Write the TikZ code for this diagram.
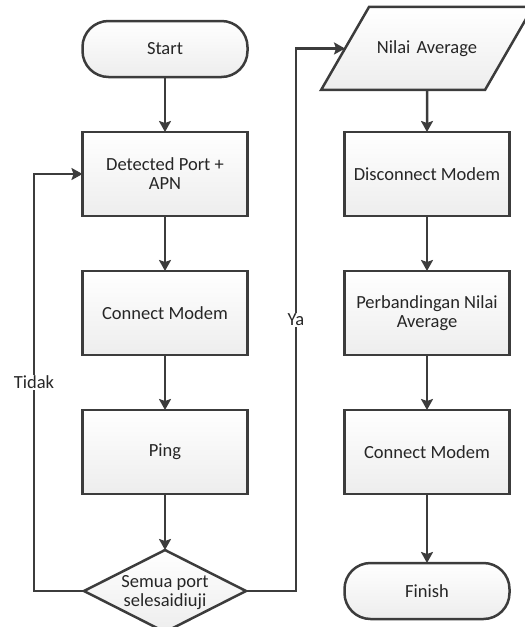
\documentclass[tikz,border=0pt]{standalone}
\usepackage{fontspec}
\setmainfont{Carlito}
\usepackage{tikz}
\usetikzlibrary{
    arrows.meta,
    positioning,
    shapes.geometric
}

\definecolor{lineclr}{HTML}{3C3C3C}

\begin{document}
\begin{tikzpicture}[
x=1pt, y=1pt,
node distance=55pt,
every node/.style={font=\fontsize{18.5}{19}\selectfont, text=black!85},
box/.style={
draw=lineclr,
line width=2.5pt,
outer sep=0pt,
top color=white,
bottom color=gray!14,
minimum width=165pt,
minimum height=84pt,
align=center
},
term/.style={
box,
rounded corners=26pt,
minimum height=56pt
},
io/.style={
box,
trapezium,
trapezium left angle=60,
trapezium right angle=120,
minimum width=0pt,
minimum height=0pt,
inner sep=0pt,
text width=116pt,
text height=46.5pt,
text depth=36.5pt
},
decision/.style={
box,
diamond,
minimum width=162pt,
minimum height=82pt,
inner sep=0pt
},
arrow/.style={
draw=lineclr,
line width=2.5pt,
-{Stealth[length=11pt,width=12pt,inset=2pt]}
},
lbl/.style={fill=white, inner sep=1pt}
]

\useasboundingbox (0,0) rectangle (525,-627);

% left column
\node[term] (start) at (165,-49) {Start};

\node[box, below=of start] (detect)
{Detected Port +\\APN};

\node[box, below=of detect] (connect)
{Connect Modem};

\node[box, below=of connect] (ping)
{Ping};

\node[decision, below=56pt of ping,
label={[align=center, yshift=-2pt]center:Semua port\\selesaidiuji}] (done)
{};

% right column
\node[box, right=97pt of detect] (disconnect)
{Disconnect Modem};

\node[io, above=42pt of disconnect] (average)
{Nilai Average};

\node[box, below=of disconnect] (compare)
{Perbandingan Nilai\\Average};

\node[box, below=of compare] (reconnect)
{Connect Modem};

\node[term, below=69pt of reconnect] (finish)
{Finish};

\draw[arrow] (start) -- (detect);
\draw[arrow] (detect) -- (connect);
\draw[arrow] (connect) -- (ping);
\draw[arrow] (ping) -- (done);

\draw[arrow] (done.west) -- ++(-50,0)
|- node[lbl, pos=0.25] {Tidak} (detect);

\draw[arrow] (done.east) -- ++(50,0)
|- node[lbl, pos=0.25] {Ya} (average);

\draw[arrow] (average) -- (disconnect);
\draw[arrow] (disconnect) -- (compare);
\draw[arrow] (compare) -- (reconnect);
\draw[arrow] (reconnect) -- (finish);

\end{tikzpicture}
\end{document}
